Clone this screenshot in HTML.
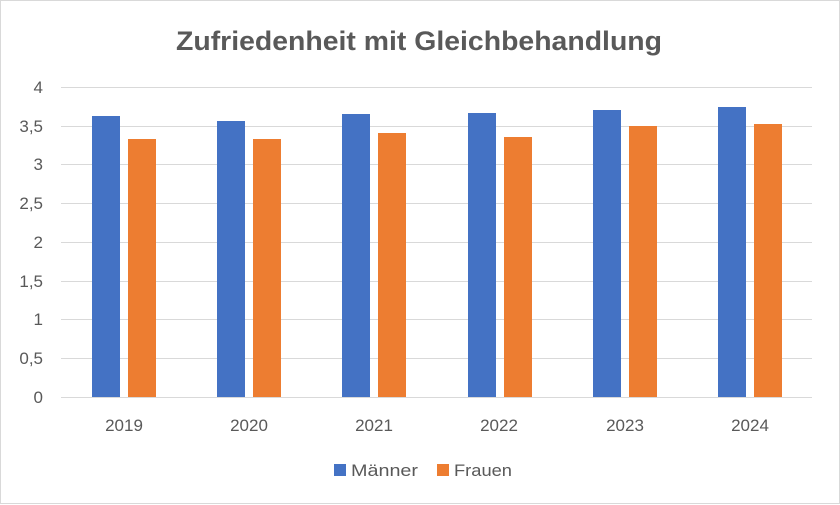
<!DOCTYPE html>
<html><head><meta charset="utf-8"><style>
html,body{margin:0;padding:0;background:#fff}
svg{display:block;font-family:"Liberation Sans",sans-serif}
</style></head><body>
<svg width="840" height="505" viewBox="0 0 840 505" xmlns="http://www.w3.org/2000/svg">
<rect x="0.5" y="0.5" width="839" height="503" fill="#fff" stroke="#d9d9d9"/>
<text x="419" y="50" text-anchor="middle" font-size="27" font-weight="bold" fill="#595959" textLength="486" lengthAdjust="spacingAndGlyphs">Zufriedenheit mit Gleichbehandlung</text>
<g stroke="#d9d9d9" stroke-width="1">
<line x1="61" x2="812" y1="87.5" y2="87.5"/>
<line x1="61" x2="812" y1="126.5" y2="126.5"/>
<line x1="61" x2="812" y1="164.5" y2="164.5"/>
<line x1="61" x2="812" y1="203.5" y2="203.5"/>
<line x1="61" x2="812" y1="242.5" y2="242.5"/>
<line x1="61" x2="812" y1="281.5" y2="281.5"/>
<line x1="61" x2="812" y1="319.5" y2="319.5"/>
<line x1="61" x2="812" y1="358.5" y2="358.5"/>
<line x1="61" x2="812" y1="397.5" y2="397.5"/>
</g>
<g font-size="17" fill="#595959" text-anchor="end">
<text x="43" y="93">4</text>
<text x="43" y="132">3,5</text>
<text x="43" y="170">3</text>
<text x="43" y="209">2,5</text>
<text x="43" y="248">2</text>
<text x="43" y="287">1,5</text>
<text x="43" y="325">1</text>
<text x="43" y="364">0,5</text>
<text x="43" y="403">0</text>
</g>
<g fill="#4472c4">
<rect x="92" y="116" width="28" height="281"/>
<rect x="217" y="121" width="28" height="276"/>
<rect x="342" y="114" width="28" height="283"/>
<rect x="468" y="113" width="28" height="284"/>
<rect x="593" y="110" width="28" height="287"/>
<rect x="718" y="107" width="28" height="290"/>
</g>
<g fill="#ed7d31">
<rect x="128" y="139" width="28" height="258"/>
<rect x="253" y="139" width="28" height="258"/>
<rect x="378" y="133" width="28" height="264"/>
<rect x="504" y="137" width="28" height="260"/>
<rect x="629" y="126" width="28" height="271"/>
<rect x="754" y="124" width="28" height="273"/>
</g>
<g font-size="17" fill="#595959" text-anchor="middle">
<text x="124" y="431">2019</text>
<text x="249" y="431">2020</text>
<text x="374" y="431">2021</text>
<text x="499" y="431">2022</text>
<text x="625" y="431">2023</text>
<text x="750" y="431">2024</text>
</g>
<rect x="334" y="464" width="12" height="12" fill="#4472c4"/>
<text x="351" y="476" font-size="17" fill="#595959" textLength="67" lengthAdjust="spacingAndGlyphs">Männer</text>
<rect x="437" y="464" width="12" height="12" fill="#ed7d31"/>
<text x="454" y="476" font-size="17" fill="#595959" textLength="58" lengthAdjust="spacingAndGlyphs">Frauen</text>
</svg>
</body></html>
